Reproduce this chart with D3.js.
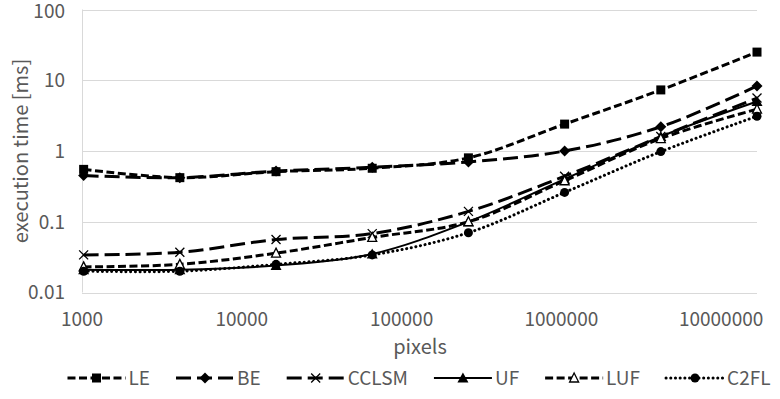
<!DOCTYPE html>
<html>
<head>
<meta charset="utf-8">
<script src="https://cdn.jsdelivr.net/npm/d3@7"></script>
<style>
  body { margin: 0; background: #fff; }
  text { font-family: "Noto Sans CJK JP", "Noto Sans", sans-serif; fill: #595959; }
</style>
</head>
<body>
<div id="chart"></div>
<script>
// execution time vs image size, log-log line chart

// data (pixels are powers of two, times)
const pixels = [1024, 4096, 16384, 65536, 262144, 1048576, 4194304, 16777216];
const seriesNames = ["LE", "BE", "CCLSM", "UF", "LUF", "C2FL"];
const leTimes    = [0.55, 0.42, 0.51, 0.57, 0.80, 2.4, 7.3, 25];
const beTimes    = [0.45, 0.42, 0.52, 0.59, 0.70, 1.0, 2.2, 8.3];
const cclsmTimes = [0.034, 0.037, 0.056, 0.068, 0.14, 0.44, 1.6, 5.6];
const ufTimes    = [0.021, 0.021, 0.024, 0.035, 0.10, 0.40, 1.6, 5.0];
const lufTimes   = [0.023, 0.025, 0.036, 0.060, 0.10, 0.38, 1.5, 3.9];
const c2flTimes  = [0.020, 0.020, 0.025, 0.034, 0.070, 0.26, 0.98, 3.1];
const xTicks = [1000, 10000, 100000, 1000000, 10000000];
const yTicks = [0.01, 0.1, 1, 10, 100];

const width = 780, height = 399;
const svg = d3.select("#chart").append("svg")
  .attr("width", width)
  .attr("height", height);

// scales
const x = d3.scaleLog().domain([1000, 16777216]).range([82, 757]);
const y = d3.scaleLog().domain([0.01, 100]).range([292.5, 9.5]);

// line styles per series
const styles = {
  LE:    { dash: "8,3.5", width: 3, marker: "square" },
  BE:    { dash: "15,6", width: 3, marker: "diamond" },
  CCLSM: { dash: "15,6", width: 3, marker: "cross" },
  UF:    { dash: null, width: 2, marker: "triangle" },
  LUF:   { dash: "8,3.5", width: 3, marker: "triangleOpen" },
  C2FL:  { dash: "0.1,4.6", width: 3, marker: "circle", round: true }
};

const series = [leTimes, beTimes, cclsmTimes, ufTimes, lufTimes, c2flTimes].map((vals, i) => ({
  name: seriesNames[i],
  points: vals.map((v, j) => ({ px: pixels[j], t: v }))
}));

// gridlines
svg.append("g")
  .selectAll("line")
  .data(yTicks)
  .join("line")
  .attr("x1", 82).attr("x2", 757)
  .attr("y1", d => Math.round(y(d)) + 0.5)
  .attr("y2", d => Math.round(y(d)) + 0.5)
  .attr("stroke", "#d9d9d9");

// left axis line
svg.append("line")
  .attr("x1", 82.5).attr("x2", 82.5)
  .attr("y1", y(100)).attr("y2", y(0.01))
  .attr("stroke", "#d9d9d9");

// y tick labels
svg.append("g")
  .selectAll("text")
  .data(yTicks)
  .join("text")
  .attr("x", 65)
  .attr("y", d => Math.max(y(d), 11))
  .attr("dy", "0.36em")
  .attr("text-anchor", "end")
  .style("font-size", "19px")
  .text(d => d3.format("~g")(d));

// x tick labels
svg.append("g")
  .selectAll("text")
  .data(xTicks)
  .join("text")
  .attr("x", d => x(d))
  .attr("y", 326)
  .attr("text-anchor", "middle")
  .style("font-size", "19px")
  .text(d => d);

// axis titles
svg.append("text")
  .attr("x", 420).attr("y", 354)
  .attr("text-anchor", "middle")
  .style("font-size", "20px")
  .text("pixels");

svg.append("text")
  .attr("transform", "translate(28,151) rotate(-90)")
  .attr("text-anchor", "middle")
  .style("font-size", "20px")
  .text("execution time [ms]");

// marker drawing helper
function drawMarker(sel, type) {
  const s = 4.5;
  if (type === "square") {
    sel.append("rect").attr("x", -s).attr("y", -s).attr("width", 2 * s).attr("height", 2 * s).attr("fill", "#000");
  } else if (type === "diamond") {
    sel.append("path").attr("d", `M0,${-s - 1}L${s + 1},0L0,${s + 1}L${-s - 1},0Z`).attr("fill", "#000");
  } else if (type === "cross") {
    sel.append("path").attr("d", `M${-s},${-s}L${s},${s}M${-s},${s}L${s},${-s}`)
      .attr("stroke", "#000").attr("stroke-width", 1.3).attr("fill", "none");
  } else if (type === "triangle") {
    sel.append("path").attr("d", `M0,${-s - 1}L${s + 1},${s}L${-s - 1},${s}Z`).attr("fill", "#000");
  } else if (type === "triangleOpen") {
    sel.append("path").attr("d", `M0,${-s - 0.5}L${s},${s - 0.5}L${-s},${s - 0.5}Z`)
      .attr("fill", "#fff").attr("stroke", "#000").attr("stroke-width", 1.3);
  } else if (type === "circle") {
    sel.append("circle").attr("r", s).attr("fill", "#000");
  }
}

const line = d3.line()
  .x(d => x(d.px))
  .y(d => y(d.t))
  .curve(d3.curveCatmullRom.alpha(0.5));

// lines
series.forEach(sr => {
  const st = styles[sr.name];
  svg.append("path")
    .datum(sr.points)
    .attr("d", line)
    .attr("fill", "none")
    .attr("stroke", "#000")
    .attr("stroke-width", st.width)
    .attr("stroke-dasharray", st.dash)
    .attr("stroke-linecap", st.round ? "round" : "butt");
});

// markers
series.forEach(sr => {
  const st = styles[sr.name];
  svg.append("g")
    .selectAll("g")
    .data(sr.points)
    .join("g")
    .attr("transform", d => `translate(${x(d.px)},${y(d.t)})`)
    .each(function () { drawMarker(d3.select(this), st.marker); });
});

// legend
const legend = svg.append("g");
let lx = 0;
series.forEach(sr => {
  const st = styles[sr.name];
  const item = legend.append("g").attr("transform", `translate(${lx},0)`);
  item.append("line")
    .attr("x1", 0).attr("x2", 58)
    .attr("stroke", "#000")
    .attr("stroke-width", st.width)
    .attr("stroke-dasharray", st.dash)
    .attr("stroke-linecap", st.round ? "round" : "butt");
  const m = item.append("g").attr("transform", "translate(29,0)");
  drawMarker(m, st.marker);
  const t = item.append("text")
    .attr("x", 61).attr("dy", "0.36em")
    .style("font-size", "19px")
    .text(sr.name);
  lx += 61 + t.node().getComputedTextLength() + 26;
});
legend.attr("transform", `translate(${419 - (lx - 26) / 2},378)`);
</script>
</body>
</html>
